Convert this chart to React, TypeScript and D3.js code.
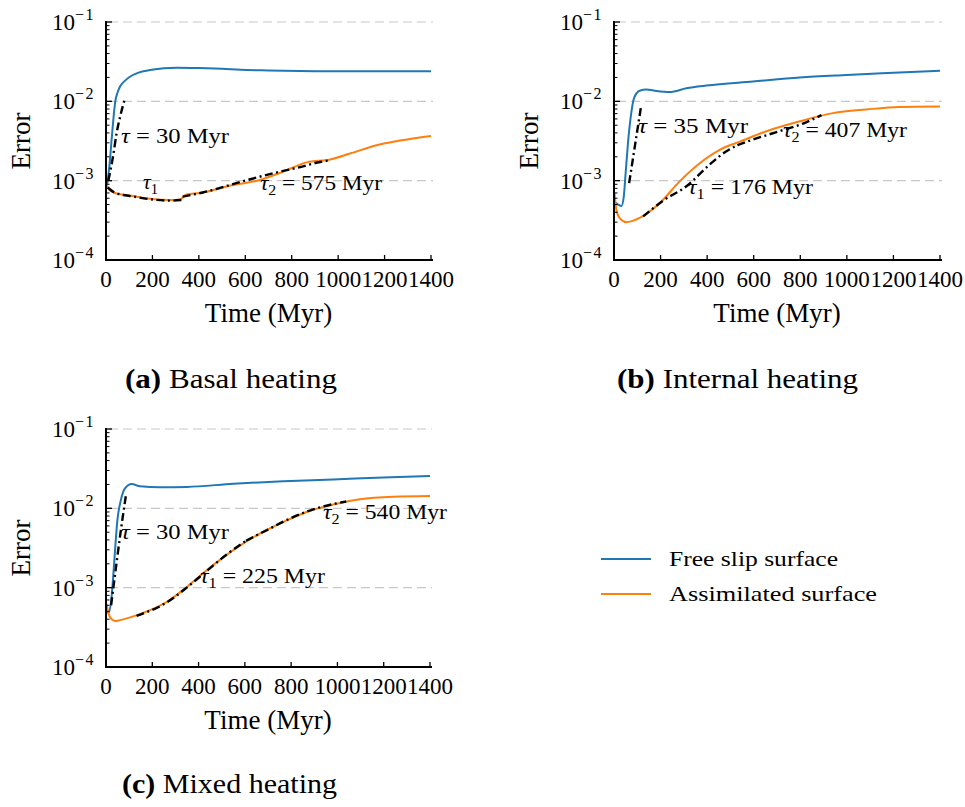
import React from "react";
import * as d3 from "d3";

type P = [number, number];

const timeTicks = [0, 200, 400, 600, 800, 1000, 1200, 1400];
const errTicks = [1e-4, 1e-3, 1e-2, 1e-1];
const errExp = ["−4", "−3", "−2", "−1"];
const gridErr = [1e-3, 1e-2, 1e-1];

// (a) Basal heating
const basalFree: P[] = [[5, 9e-4], [12, 1.3e-3], [17, 1.8e-3], [23, 3e-3], [29, 4.8e-3], [35, 7.5e-3], [40, 1.0e-2], [50, 1.3e-2], [60, 1.53e-2], [80, 1.8e-2], [103, 2.04e-2], [140, 2.3e-2], [190, 2.48e-2], [250, 2.62e-2], [305, 2.66e-2], [400, 2.63e-2], [500, 2.57e-2], [580, 2.5e-2], [700, 2.45e-2], [900, 2.4e-2], [1100, 2.39e-2], [1300, 2.4e-2], [1400, 2.4e-2]];
const basalAssim: P[] = [[2, 8.8e-4], [15, 7.6e-4], [39, 7.0e-4], [117, 6.4e-4], [190, 5.9e-4], [276, 5.7e-4], [319, 5.8e-4], [347, 6.7e-4], [405, 7.0e-4], [548, 8.8e-4], [663, 1.02e-3], [763, 1.3e-3], [864, 1.7e-3], [965, 1.85e-3], [1051, 2.2e-3], [1166, 2.8e-3], [1266, 3.2e-3], [1400, 3.66e-3]];
const basalFitTau: P[] = [[10, 1.0e-3], [30, 2.0e-3], [46, 4.0e-3], [63, 6.8e-3], [82, 1.1e-2]];
const basalFitTau1: P[] = [[8, 8.2e-4], [40, 7.0e-4], [120, 6.3e-4], [200, 5.8e-4], [280, 5.6e-4], [325, 5.7e-4]];
const basalFitTau2: P[] = [[330, 6.3e-4], [417, 7.1e-4], [577, 9.6e-4], [720, 1.24e-3], [822, 1.45e-3], [922, 1.72e-3], [960, 1.8e-3]];

// (b) Internal heating
const internalFree: P[] = [[3, 5.4e-4], [18, 5.0e-4], [32, 4.8e-4], [42, 6.3e-4], [50, 1.25e-3], [60, 2.97e-3], [72, 6.4e-3], [86, 1.1e-2], [110, 1.36e-2], [139, 1.41e-2], [182, 1.35e-2], [239, 1.31e-2], [311, 1.46e-2], [397, 1.58e-2], [597, 1.78e-2], [798, 2.0e-2], [999, 2.15e-2], [1200, 2.29e-2], [1400, 2.43e-2]];
const internalAssim: P[] = [[2, 7.0e-4], [10, 4.3e-4], [25, 3.35e-4], [53, 3.0e-4], [110, 3.4e-4], [196, 5.2e-4], [282, 9.8e-4], [368, 1.66e-3], [454, 2.45e-3], [540, 3.1e-3], [655, 4.2e-3], [798, 5.6e-3], [941, 7.1e-3], [1084, 7.9e-3], [1227, 8.5e-3], [1400, 8.6e-3]];
const internalFitTau: P[] = [[65, 9.3e-4], [90, 2.77e-3], [115, 8.2e-3]];
const internalFitTau1: P[] = [[125, 3.54e-4], [211, 5.6e-4], [311, 8.5e-4], [411, 1.6e-3], [483, 2.35e-3], [530, 2.8e-3]];
const internalFitTau2: P[] = [[530, 2.8e-3], [584, 3.2e-3], [698, 4.1e-3], [812, 5.25e-3], [891, 6.7e-3]];

// (c) Mixed heating
const mixedFree: P[] = [[4, 5.5e-4], [10, 4.8e-4], [24, 7.6e-4], [31, 1.36e-3], [39, 2.95e-3], [49, 7.0e-3], [64, 1.26e-2], [82, 1.78e-2], [111, 2.02e-2], [147, 1.9e-2], [233, 1.84e-2], [349, 1.86e-2], [550, 2.04e-2], [766, 2.2e-2], [982, 2.31e-2], [1198, 2.45e-2], [1400, 2.55e-2]];
const mixedAssim: P[] = [[2, 6.3e-4], [17, 4.26e-4], [39, 3.8e-4], [60, 3.9e-4], [118, 4.35e-4], [190, 5.2e-4], [262, 6.6e-4], [349, 1.02e-3], [435, 1.66e-3], [550, 2.97e-3], [664, 4.8e-3], [766, 6.7e-3], [866, 9.0e-3], [982, 1.12e-2], [1097, 1.3e-2], [1241, 1.4e-2], [1400, 1.43e-2]];
const mixedFitTau: P[] = [[22, 6.0e-4], [45, 2.0e-3], [65, 5.5e-3], [86, 1.45e-2]];
const mixedFitTau1: P[] = [[132, 4.4e-4], [262, 6.5e-4], [349, 1.0e-3], [435, 1.62e-3], [520, 2.6e-3], [605, 3.9e-3]];
const mixedFitTau2: P[] = [[605, 3.9e-3], [700, 5.4e-3], [806, 7.7e-3], [920, 1.02e-2], [1038, 1.22e-2]];

const seriesNames = ["Free slip surface", "Assimilated surface"];
const legendWidths = [169, 208];
const BLUE = "#1f77b4";
const ORANGE = "#ff7f0e";
const FONT = "'Liberation Serif', 'Times New Roman', serif";

type PanelProps = {
  x0: number; x1: number; yTop: number; yBot: number;
  free: P[]; assim: P[]; fits: P[][];
  labels: { tx: number; ty: number; sub: string; value: string; w: number }[];
  caption: [string, string]; capX: number; capY: number; capW: number;
};

function Panel(p: PanelProps) {
  const x = d3.scaleLinear().domain([0, 1400]).range([p.x0, p.x1]);
  const y = d3.scaleLog().domain([1e-4, 1e-1]).range([p.yBot, p.yTop]);
  const line = d3.line<P>().x((d) => x(d[0])).y((d) => y(d[1])).curve(d3.curveMonotoneX);
  const minor: number[] = [];
  for (const dec of [1e-4, 1e-3, 1e-2]) for (let k = 2; k <= 9; k++) minor.push(k * dec);
  const xEnd = p.x1 + 2;
  const cx = (p.x0 + p.x1) / 2;
  const cy = (p.yTop + p.yBot) / 2;
  return (
    <g fontFamily={FONT} fill="#000">
      {gridErr.map((g) => (
        <line key={g} x1={p.x0 + 3} x2={xEnd} y1={y(g)} y2={y(g)} stroke="#c8c8c8" strokeWidth={1.2} strokeDasharray="9,5" />
      ))}
      <path d={line(p.free) || ""} fill="none" stroke={BLUE} strokeWidth={2} />
      <path d={line(p.assim) || ""} fill="none" stroke={ORANGE} strokeWidth={2} />
      {p.fits.map((f, i) => (
        <path key={i} d={line(f) || ""} fill="none" stroke="#000" strokeWidth={2.4} strokeDasharray="8,3.5,2,3.5" />
      ))}
      <line x1={p.x0} x2={p.x0} y1={p.yTop - 1} y2={p.yBot + 1} stroke="#000" strokeWidth={2} />
      <line x1={p.x0 - 1} x2={xEnd} y1={p.yBot} y2={p.yBot} stroke="#000" strokeWidth={2} />
      {timeTicks.map((t) => (
        <g key={t}>
          <line x1={x(t)} x2={x(t)} y1={p.yBot} y2={p.yBot - 5} stroke="#000" strokeWidth={1.3} />
          <text x={x(t)} y={p.yBot + 27} fontSize={23} textAnchor="middle">{t}</text>
        </g>
      ))}
      {errTicks.map((e, i) => (
        <g key={e}>
          <line x1={p.x0} x2={p.x0 + 6} y1={y(e)} y2={y(e)} stroke="#000" strokeWidth={1.3} />
          <text x={p.x0 - 11} y={y(e) + 8} fontSize={23} textAnchor="end">
            10<tspan dy={-10} fontSize={16} letterSpacing={1.5}>{errExp[i]}</tspan>
          </text>
        </g>
      ))}
      {minor.map((m) => (
        <line key={m} x1={p.x0} x2={p.x0 + 3.5} y1={y(m)} y2={y(m)} stroke="#000" strokeWidth={1} />
      ))}
      <text x={cx} y={p.yBot + 62} fontSize={27} textAnchor="middle">Time (Myr)</text>
      <text transform={`translate(${p.x0 - 76},${cy}) rotate(-90)`} fontSize={27} textAnchor="middle">Error</text>
      {p.labels.map((l, i) => (
        <text key={i} x={l.tx} y={l.ty} fontSize={22} textLength={l.w} lengthAdjust="spacingAndGlyphs">
          <tspan fontStyle="italic">τ</tspan>
          {l.sub ? <tspan fontSize={15} dy={5}>{l.sub}</tspan> : null}
          {l.value ? <tspan dy={l.sub ? -5 : 0}>{" = " + l.value}</tspan> : null}
        </text>
      ))}
      <text x={p.capX} y={p.capY} fontSize={28} textLength={p.capW} lengthAdjust="spacingAndGlyphs">
        <tspan fontWeight="bold">{p.caption[0]}</tspan>
        <tspan>{" " + p.caption[1]}</tspan>
      </text>
    </g>
  );
}

export default function App() {
  return (
    <svg width={965} height={807} style={{ display: "block", position: "absolute", left: 0, top: 0 }}>
      <rect width={965} height={807} fill="#fff" />
      <Panel x0={106} x1={431} yTop={22} yBot={260}
        free={basalFree} assim={basalAssim} fits={[basalFitTau, basalFitTau1, basalFitTau2]}
        labels={[
          { tx: 121, ty: 143, sub: "", value: "30 Myr", w: 108 },
          { tx: 143, ty: 189, sub: "1", value: "", w: 15 },
          { tx: 260, ty: 190, sub: "2", value: "575 Myr", w: 122 },
        ]}
        caption={["(a)", "Basal heating"]} capX={125} capY={388} capW={212} />
      <Panel x0={614} x1={940} yTop={22} yBot={260}
        free={internalFree} assim={internalAssim} fits={[internalFitTau, internalFitTau1, internalFitTau2]}
        labels={[
          { tx: 638, ty: 133, sub: "", value: "35 Myr", w: 110 },
          { tx: 783, ty: 137, sub: "2", value: "407 Myr", w: 124 },
          { tx: 688, ty: 194, sub: "1", value: "176 Myr", w: 125 },
        ]}
        caption={["(b)", "Internal heating"]} capX={617} capY={388} capW={241} />
      <Panel x0={106} x1={430} yTop={429} yBot={667}
        free={mixedFree} assim={mixedAssim} fits={[mixedFitTau, mixedFitTau1, mixedFitTau2]}
        labels={[
          { tx: 121, ty: 539, sub: "", value: "30 Myr", w: 108 },
          { tx: 200, ty: 583, sub: "1", value: "225 Myr", w: 125 },
          { tx: 323, ty: 519, sub: "2", value: "540 Myr", w: 124 },
        ]}
        caption={["(c)", "Mixed heating"]} capX={122} capY={793} capW={215} />
      <g fontFamily={FONT}>
        {seriesNames.map((n, i) => (
          <g key={n}>
            <line x1={601} x2={651} y1={559 + i * 35} y2={559 + i * 35} stroke={i === 0 ? BLUE : ORANGE} strokeWidth={2} />
            <text x={669} y={566 + i * 35} fontSize={22} textLength={legendWidths[i]} lengthAdjust="spacingAndGlyphs">{n}</text>
          </g>
        ))}
      </g>
    </svg>
  );
}
